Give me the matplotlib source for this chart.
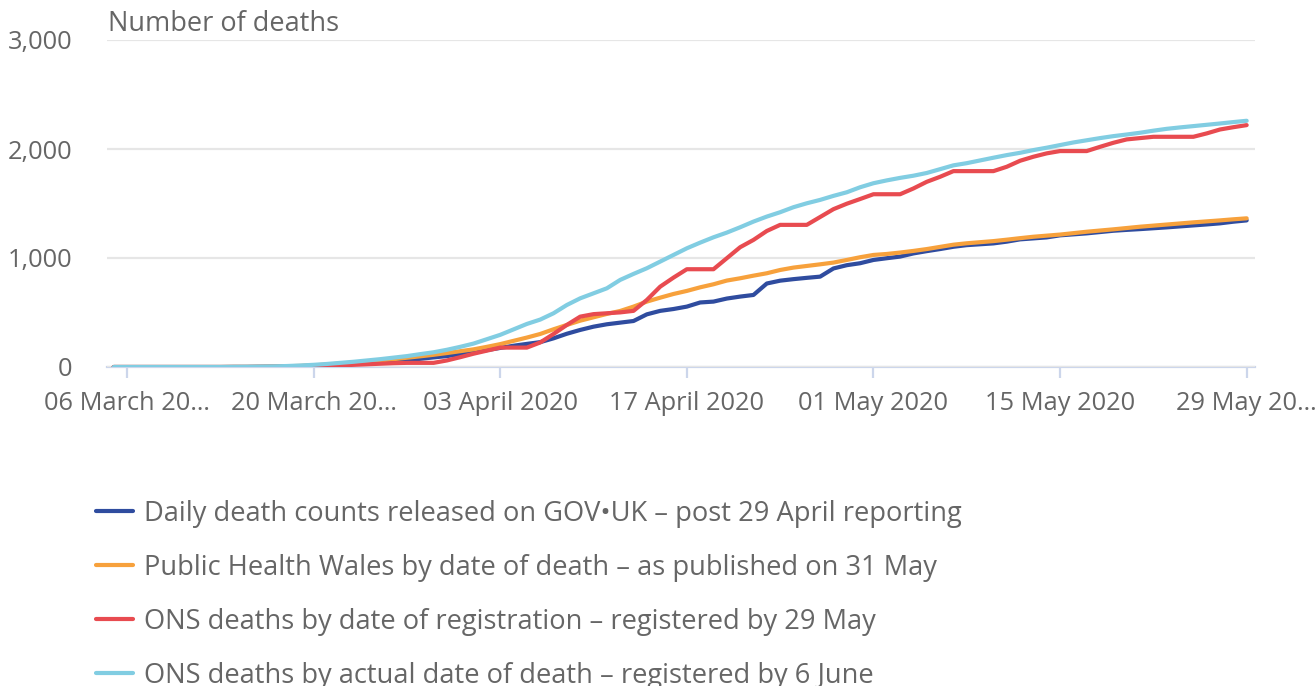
#!/usr/bin/env python3

import pandas as pd
import matplotlib
matplotlib.use('Agg')
import matplotlib.pyplot as plt

plt.rcParams['font.family'] = ['Open Sans', 'DejaVu Sans']

# daily cumulative deaths, 05 March to 29 May 2020
dates = pd.date_range('2020-03-05', '2020-05-29', freq='D')

gov_uk = [0, 0, 0, 0, 0, 0, 0, 0, 0, 1, 1, 2, 3, 5, 8, 12, 18, 25, 30, 38,
          45, 55, 65, 75, 88, 100, 118, 135, 155, 175, 195, 212, 228, 263, 305, 340, 370, 392, 407, 422,
          483, 515, 532, 554, 592, 600, 628, 646, 661, 766, 792, 806, 818, 829, 904, 934, 952, 982, 998, 1013,
          1042, 1063, 1082, 1103, 1118, 1126, 1134, 1150, 1171, 1180, 1189, 1208, 1217, 1226, 1238, 1250, 1258, 1265, 1273, 1281,
          1290, 1299, 1308, 1318, 1333, 1345]

phw = [0, 0, 0, 0, 0, 0, 0, 0, 0, 1, 1, 2, 4, 7, 10, 15, 22, 32, 40, 50,
       60, 72, 85, 98, 112, 128, 145, 162, 185, 210, 240, 270, 303, 346, 386, 425, 456, 487, 514, 554,
       600, 636, 670, 698, 731, 759, 793, 814, 838, 860, 890, 912, 927, 942, 958, 982, 1007, 1028, 1037, 1050,
       1065, 1082, 1102, 1122, 1135, 1145, 1155, 1168, 1182, 1195, 1205, 1215, 1228, 1241, 1252, 1263, 1275, 1287, 1297, 1307,
       1317, 1327, 1336, 1345, 1355, 1364]

ons_registration = [0, 0, 0, 0, 0, 0, 0, 0, 0, 0, 0, 1, 2, 3, 4, 5, 10, 15, 20, 25,
                    30, 35, 38, 38, 38, 60, 90, 122, 150, 178, 178, 178, 225, 303, 386, 462, 485, 493, 501, 515,
                    615, 737, 820, 897, 897, 897, 998, 1099, 1166, 1248, 1304, 1304, 1304, 1376, 1448, 1498, 1541, 1585, 1585, 1585,
                    1638, 1699, 1745, 1797, 1797, 1797, 1797, 1837, 1892, 1929, 1960, 1981, 1981, 1981, 2020, 2057, 2088, 2100, 2112, 2112,
                    2112, 2112, 2143, 2179, 2200, 2219]

ons_occurrence = [0, 0, 0, 0, 0, 0, 0, 0, 0, 1, 2, 4, 6, 9, 14, 20, 28, 38, 48, 60,
                  72, 86, 100, 118, 135, 158, 185, 215, 255, 295, 345, 395, 435, 493, 569, 630, 676, 722, 799, 854,
                  906, 967, 1028, 1089, 1141, 1190, 1233, 1282, 1334, 1380, 1420, 1466, 1502, 1533, 1570, 1603, 1649, 1686, 1712, 1735,
                  1755, 1780, 1815, 1850, 1870, 1895, 1920, 1944, 1965, 1990, 2012, 2036, 2060, 2080, 2100, 2118, 2133, 2149, 2168, 2185,
                  2198, 2210, 2222, 2234, 2247, 2259]

series = [
    (gov_uk, '#2f4c9f', 'Daily death counts released on GOV\u2022UK \u2013 post 29 April reporting'),
    (phw, '#f7a13c', 'Public Health Wales by date of death \u2013 as published on 31 May'),
    (ons_registration, '#e84b50', 'ONS deaths by date of registration \u2013 registered by 29 May'),
    (ons_occurrence, '#81cde2', 'ONS deaths by actual date of death \u2013 registered by 6 June'),
]

tick_dates = pd.date_range('2020-03-06', '2020-05-29', freq='14D')
tick_labels = ['06 March 20\u2026', '20 March 20\u2026', '03 April 2020', '17 April 2020',
               '01 May 2020', '15 May 2020', '29 May 20\u2026']
y_ticks = [0, 1000, 2000, 3000]

text_col = '#666666'

#_____________________________________________________________________________
fig = plt.figure(figsize=(13.15, 6.86), dpi=100)
ax = fig.add_axes([107 / 1315, 1 - 367 / 686, (1255 - 107) / 1315, (367 - 40) / 686])

for values, colour, label in series:
    ax.plot(dates, values, color=colour, lw=3, label=label, solid_capstyle='round')

ax.set_ylim(0, 3000)
ax.set_xlim(pd.Timestamp('2020-03-06') - pd.Timedelta(hours=36),
            pd.Timestamp('2020-05-29') + pd.Timedelta(hours=15))

ax.set_yticks(y_ticks)
ax.set_yticklabels(['{:,}'.format(v) for v in y_ticks])
ax.set_xticks(tick_dates)
ax.set_xticklabels(tick_labels)

ax.grid(axis='y', color='#e6e6e6', lw=1.6)
ax.set_axisbelow(True)
for side in ['top', 'right', 'left']:
    ax.spines[side].set_visible(False)
ax.spines['bottom'].set_color('#ccd6eb')
ax.spines['bottom'].set_linewidth(1.6)
ax.spines['bottom'].set_zorder(0.5)

ax.tick_params(axis='y', length=0, pad=25, labelsize=18.3, labelcolor=text_col)
ax.tick_params(axis='x', length=8, width=1.6, color='#ccd6eb', pad=9,
               labelsize=18.3, labelcolor=text_col)

ax.annotate('Number of deaths', xy=(0, 1), xycoords='axes fraction',
            xytext=(1, 11.5), textcoords='offset points', ha='left', va='center',
            fontsize=19.5, color=text_col)

leg = fig.legend(loc='upper left', bbox_to_anchor=(96 / 1315, 1 - 500 / 686),
                 frameon=False, fontsize=19.6, handlelength=1.36, handletextpad=0.4,
                 labelspacing=0.95, borderpad=0, borderaxespad=0)
for text in leg.get_texts():
    text.set_color(text_col)

fig.savefig('out.png', dpi=100)
